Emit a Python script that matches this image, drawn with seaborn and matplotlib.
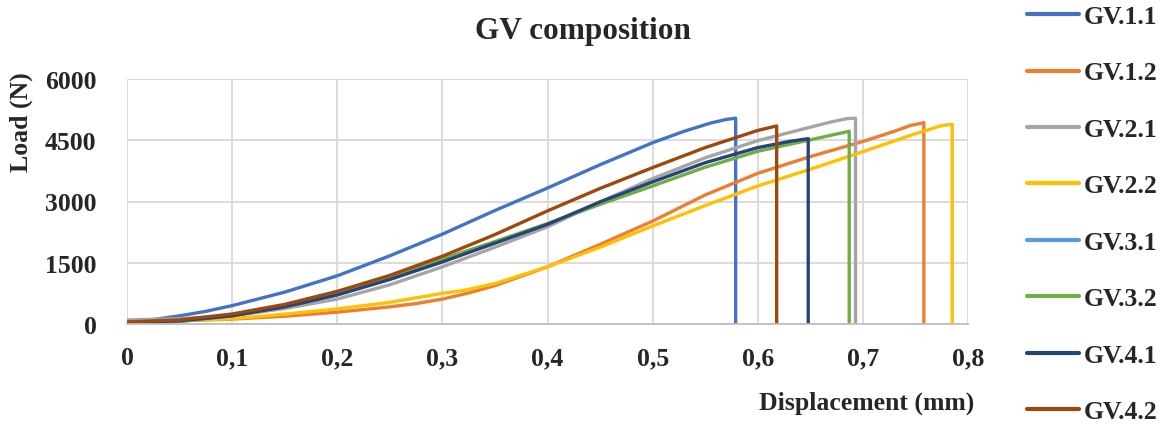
import numpy as np
import pandas as pd
import matplotlib
matplotlib.use("Agg")
import matplotlib.pyplot as plt
from matplotlib.lines import Line2D
from matplotlib.ticker import FuncFormatter, MultipleLocator
import seaborn as sns

# ── Data ──────────────────────────────────────────────────
gv11_x = [0, 0.025, 0.05, 0.075, 0.1, 0.15, 0.2, 0.25, 0.3, 0.35, 0.4, 0.45, 0.5, 0.53, 0.555, 0.57, 0.579, 0.579]
gv11_y = [60, 110, 200, 310, 450, 780, 1180, 1670, 2200, 2780, 3330, 3900, 4440, 4720, 4920, 5010, 5040, 0]

gv12_x = [0, 0.05, 0.1, 0.15, 0.2, 0.25, 0.275, 0.3, 0.325, 0.35, 0.4, 0.45, 0.5, 0.55, 0.6, 0.65, 0.7, 0.73, 0.745, 0.758, 0.758]
gv12_y = [40, 80, 120, 190, 290, 420, 500, 610, 760, 940, 1400, 1950, 2520, 3160, 3690, 4100, 4470, 4720, 4860, 4930, 0]

gv21_x = [0, 0.05, 0.1, 0.15, 0.2, 0.25, 0.3, 0.35, 0.4, 0.45, 0.5, 0.55, 0.6, 0.65, 0.67, 0.685, 0.693, 0.693]
gv21_y = [100, 130, 200, 380, 610, 960, 1400, 1880, 2380, 2990, 3560, 4070, 4490, 4820, 4950, 5030, 5040, 0]

gv22_x = [0, 0.05, 0.1, 0.15, 0.2, 0.25, 0.3, 0.32, 0.35, 0.4, 0.45, 0.5, 0.55, 0.6, 0.65, 0.7, 0.75, 0.775, 0.785, 0.785]
gv22_y = [30, 80, 130, 240, 370, 530, 750, 820, 990, 1400, 1880, 2400, 2900, 3380, 3790, 4220, 4660, 4860, 4890, 0]

gv31_x = []
gv31_y = []

gv32_x = [0, 0.05, 0.1, 0.15, 0.2, 0.25, 0.3, 0.35, 0.4, 0.45, 0.5, 0.55, 0.6, 0.65, 0.687, 0.687]
gv32_y = [0, 60, 200, 440, 760, 1150, 1590, 2020, 2460, 2930, 3380, 3840, 4230, 4510, 4720, 0]

gv41_x = [0, 0.05, 0.1, 0.15, 0.2, 0.25, 0.3, 0.35, 0.4, 0.45, 0.5, 0.55, 0.6, 0.63, 0.648, 0.648]
gv41_y = [30, 80, 200, 420, 710, 1090, 1520, 1980, 2440, 2990, 3480, 3950, 4320, 4470, 4540, 0]

gv42_x = [0, 0.05, 0.1, 0.15, 0.2, 0.25, 0.3, 0.35, 0.4, 0.45, 0.5, 0.55, 0.6, 0.618, 0.618]
gv42_y = [50, 100, 245, 480, 800, 1190, 1660, 2190, 2770, 3320, 3830, 4320, 4740, 4850, 0]

names  = ["GV.1.1", "GV.1.2", "GV.2.1", "GV.2.2", "GV.3.1", "GV.3.2", "GV.4.1", "GV.4.2"]
xs     = [gv11_x, gv12_x, gv21_x, gv22_x, gv31_x, gv32_x, gv41_x, gv42_x]
ys     = [gv11_y, gv12_y, gv21_y, gv22_y, gv31_y, gv32_y, gv41_y, gv42_y]
colors = ["#4472C4", "#ED7D31", "#A5A5A5", "#FFC000", "#5B9BD5", "#70AD47", "#264478", "#9E480E"]

# ── Style ─────────────────────────────────────────────────
sns.set_style("white")
plt.rcParams["font.family"] = ["Liberation Serif", "DejaVu Serif"]
plt.rcParams["font.weight"] = "bold"

fig = plt.figure(figsize=(11.73, 4.27), dpi=100)
ax = fig.add_axes([127 / 1173, 1 - 325 / 427, (968 - 127) / 1173, (325 - 80) / 427])

for name, x, y, c in zip(names, xs, ys, colors):
    if len(x) == 0:
        continue
    d = pd.DataFrame({"x": x, "y": y})
    sns.lineplot(data=d, x="x", y="y", ax=ax, color=c, lw=2.4,
                 sort=False, estimator=None, legend=False)

ax.set_xlim(0, 0.8)
ax.set_ylim(0, 6000)
ax.xaxis.set_major_locator(MultipleLocator(0.1))
ax.yaxis.set_major_locator(MultipleLocator(1500))
ax.xaxis.set_major_formatter(FuncFormatter(lambda v, p: "0" if abs(v) < 1e-9 else f"{v:.1f}".replace(".", ",")))
ax.grid(True, color="#D9D9D9", lw=1.3)
ax.set_axisbelow(True)
for s in ["top", "right", "left"]:
    ax.spines[s].set_visible(False)
ax.spines["bottom"].set_color("#BFBFBF")
ax.spines["bottom"].set_linewidth(1.3)
ax.tick_params(axis="both", length=0, labelsize=18.5)
ax.tick_params(axis="y", pad=22)
ax.tick_params(axis="x", pad=16)
for lab in ax.get_xticklabels() + ax.get_yticklabels():
    lab.set_fontweight("bold")

ax.set_xlabel("Displacement (mm)", fontsize=18.5, fontweight="bold")
ax.set_ylabel("Load (N)", fontsize=18.5, fontweight="bold")
ax.xaxis.set_label_coords(1.008, -0.27)
ax.xaxis.label.set_ha("right")
ax.yaxis.set_label_coords(-0.112, 0.83)

fig.text(583 / 1173, 1 - 31 / 427, "GV composition", ha="center", va="center",
         fontsize=22.5, fontweight="bold")

handles = [Line2D([0], [0], color=c, lw=3) for c in colors]
fig.legend(handles, names, loc="center left", bbox_to_anchor=(1004 / 1173, 1 - 215 / 427),
           frameon=False, handlelength=2.0, handletextpad=0.2,
           labelspacing=1.3, prop={"weight": "bold", "size": 18.5})

fig.savefig("out.png", dpi=100)
